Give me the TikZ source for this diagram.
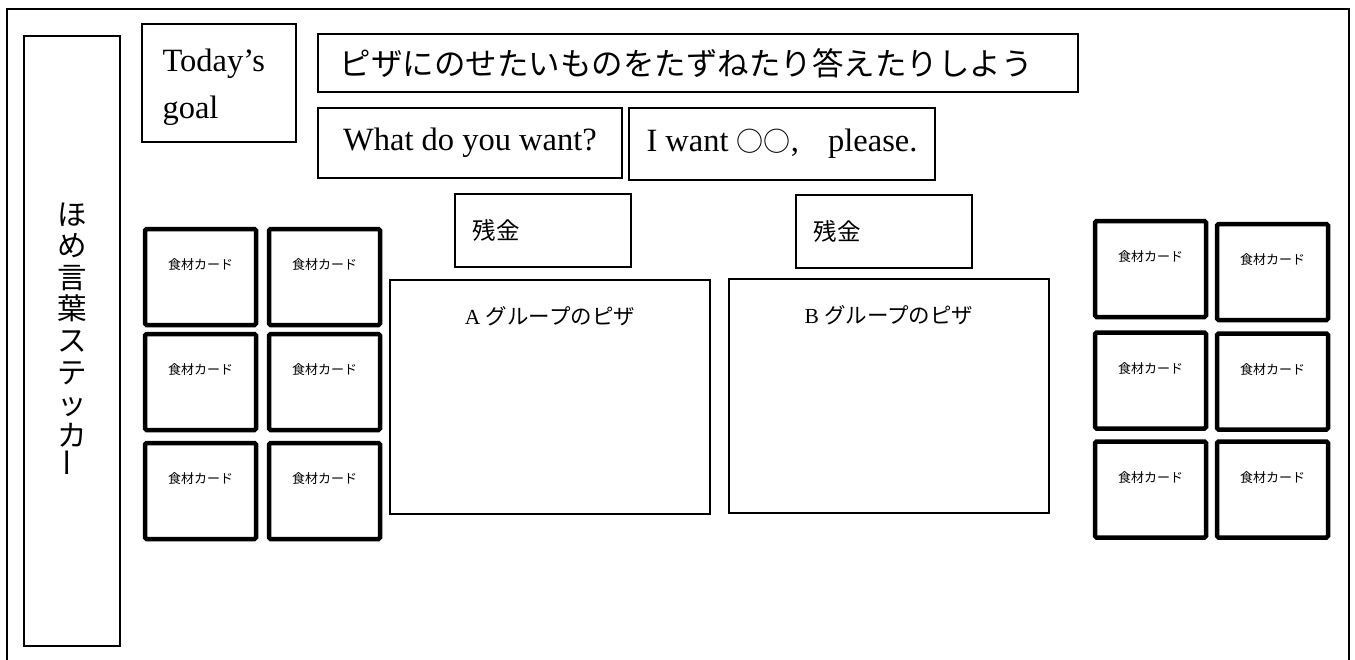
\documentclass[tikz,border=0pt]{standalone}
\usepackage{fontspec}
\setmainfont{Liberation Serif}
\newfontfamily\jp{Noto Sans CJK JP}
\usetikzlibrary{positioning}
\tikzset{
	box/.style={draw, line width=1.3pt, inner sep=0pt},
	boxtext/.style={inner sep=0pt},
	card/.style={draw, line width=4.5pt, rounded corners=1.5pt, inner sep=0pt, minimum width=111pt, minimum height=96pt},
	cardtext/.style={font=\jp\fontsize{13}{15}\selectfont, inner sep=0pt}
}

\begin{document}
\begin{tikzpicture}[x=1pt, y=-1pt]
			\useasboundingbox (0,0) rectangle (1355,659);
			\draw[line width=1.6pt] (7,670) -- (7,8.7) -- (1349,8.7) -- (1349,670);

			\node[box, minimum width=96pt, minimum height=610pt] (sticker) at (72,341) {};
			\node[boxtext, font=\jp\fontsize{29.5}{31.6}\selectfont, align=center, anchor=north] (stickertext) at ([yshift=-167pt]sticker.north) {ほ\\め\\言\\葉\\ス\\テ\\ッ\\カ\\\rotatebox{90}{ー}};

			\node[box, minimum width=154pt, minimum height=118pt] (goal) at (219,83) {};
			\node[boxtext, font=\fontsize{32.5}{47}\selectfont, align=left, anchor=north west] (goaltext) at ([shift={(21pt,-25pt)}]goal.north west) {Today’s\\goal};

			\node[box, minimum width=760pt, minimum height=58pt] (title) at (698,63) {};
			\node[boxtext, font=\jp\fontsize{31.5}{35}\selectfont, anchor=west] (titletext) at ([xshift=22pt]title.west) {ピザにのせたいものをたずねたり答えたりしよう};

			\node[box, minimum width=304pt, minimum height=70pt, font=\fontsize{32.5}{36}\selectfont] (ask) at (470,143) {What do you want?};
			\node[box, minimum width=306pt, minimum height=72pt, font=\fontsize{32.5}{36}\selectfont] (answer) at (782,144) {I want {\jp\fontsize{27}{31}\selectfont ○○},\hspace{0.9em}please.};

			\node[box, minimum width=176pt, minimum height=73pt] (zanA) at (543,230.5) {};
			\node[boxtext, font=\jp\fontsize{23.5}{27}\selectfont, anchor=west] (zanAtext) at ([xshift=18pt]zanA.west) {残金};
			\node[box, minimum width=176pt, minimum height=73pt] (zanB) at (884,231.5) {};
			\node[boxtext, font=\jp\fontsize{23.5}{27}\selectfont, anchor=west] (zanBtext) at ([xshift=18pt]zanB.west) {残金};

			\node[box, minimum width=320pt, minimum height=234pt] (pizzaA) at (550,397) {};
			\node[boxtext, font=\fontsize{21.5}{25}\selectfont] (pizzaAtext) at ([yshift=-37pt]pizzaA.north) {A {\jp グループのピザ}};
			\node[box, minimum width=320pt, minimum height=234pt] (pizzaB) at (889,396) {};
			\node[boxtext, font=\fontsize{21.5}{25}\selectfont] (pizzaBtext) at ([yshift=-37pt]pizzaB.north) {B {\jp グループのピザ}};

			\foreach \cx/\cy [count=\i] in {200.5/277, 324.5/277, 200.5/382, 324.5/382, 200.5/491, 324.5/491} {
				\node[card] (cardL\i) at (\cx,\cy) {};
				\node[cardtext] (cardLtext\i) at ([yshift=-38pt]cardL\i.north) {食材カード};
			}

			\foreach \cx/\cy [count=\i] in {1150.5/269, 1272.5/272, 1150.5/380.5, 1272.5/381.5, 1150.5/489.5, 1272.5/489.5} {
				\node[card] (cardR\i) at (\cx,\cy) {};
				\node[cardtext] (cardRtext\i) at ([yshift=-38pt]cardR\i.north) {食材カード};
			}
		\end{tikzpicture}
\end{document}
